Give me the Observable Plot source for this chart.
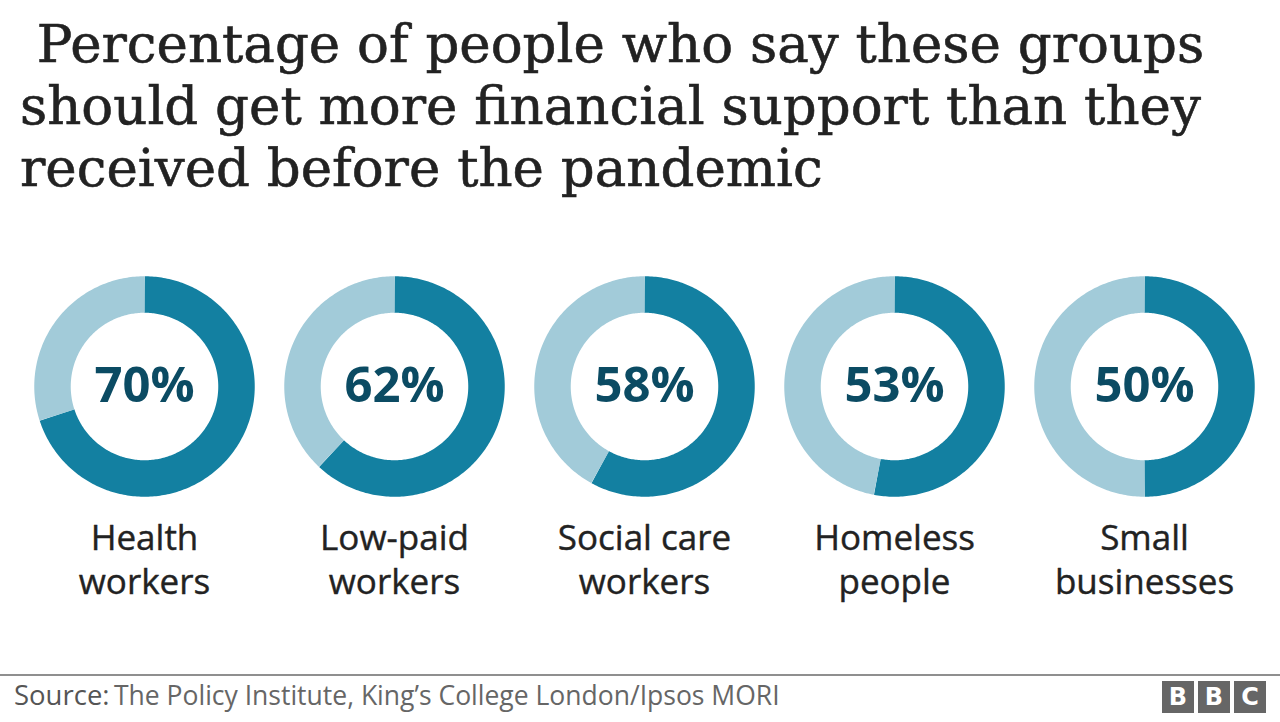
<!DOCTYPE html>
<html>
<head>
<meta charset="utf-8">
<script src="https://cdn.jsdelivr.net/npm/d3@7"></script>
<script src="https://cdn.jsdelivr.net/npm/@observablehq/plot@0.6"></script>
<style>
  html, body { margin: 0; padding: 0; background: #fff; }
  #page { position: relative; width: 1280px; height: 722px; overflow: hidden; }
  #title { position: absolute; left: 20px; top: 13px; font-family: "DejaVu Serif", serif; font-size: 53px; line-height: 62px; color: #222; white-space: pre; -webkit-text-stroke: 0.6px #222; }
  #chart { position: absolute; left: 0; top: 230px; }
  #rule { position: absolute; left: 0; top: 674px; width: 1280px; height: 2px; background: #8f8f8f; }
  #source { position: absolute; left: 14px; top: 677px; font-family: "Open Sans", "Noto Sans", sans-serif; font-size: 26.5px; line-height: 36px; color: #666; white-space: pre; }
  #source b { font-weight: normal; color: #555; font-size: 27.5px; }
  #logo { position: absolute; left: 1162px; top: 681px; display: flex; gap: 4px; }
  #logo span { width: 32px; height: 32px; background: #666; color: #fff; font-family: "DejaVu Sans", sans-serif; font-weight: bold; font-size: 24px; line-height: 32px; text-align: center; display: block; }
</style>
</head>
<body>
<div id="page">
  <div id="title"></div>
  <div id="chart"></div>
  <div id="rule"></div>
  <div id="source"></div>
  <div id="logo"><span>B</span><span>B</span><span>C</span></div>
</div>
<script>
// ---- data ----
const titleLines = [" Percentage of people who say these groups", "should get more financial support than they", "received before the pandemic"];
const groups = ["Health\nworkers", "Low-paid\nworkers", "Social care\nworkers", "Homeless\npeople", "Small\nbusinesses"];
const values = [70, 62, 58, 53, 50];
const sourceLabel = "Source:";
const sourceText = "The Policy Institute, King\u2019s College London/Ipsos MORI";

document.getElementById("title").textContent = titleLines.join("\n");
document.getElementById("source").innerHTML = "<b>" + sourceLabel + "</b>\u2009" + sourceText;

// ---- build ring geometry from values (polar -> x/y in column units) ----
const R = 0.368; // mid radius of ring in column units
const arcs = [];
values.forEach((v, i) => {
  const segs = [["yes", 0, v], ["rest", v, 100]];
  segs.forEach(([kind, a0, a1]) => {
    const steps = Math.max(2, Math.ceil((a1 - a0) * 3.6));
    for (let s = 0; s <= steps; s++) {
      const t = (a0 + (a1 - a0) * s / steps) / 100 * 2 * Math.PI;
      arcs.push({key: i + "-" + kind, kind, x: i + R * Math.sin(t), y: -R * Math.cos(t)});
    }
  });
});
const table = groups.map((g, i) => ({i, group: g, value: values[i], pct: values[i] + "%"}));

const W = 1280, H = 390;
const chart = Plot.plot({
  width: W,
  height: H,
  margin: 0,
  x: {domain: [-0.576, 4.544], range: [0, W], axis: null},
  y: {domain: [-0.624, 0.936], range: [0, H], axis: null},
  color: {domain: ["yes", "rest"], range: ["#1380a1", "#a2cbd9"]},
  style: {background: "#fff"},
  marks: [
    Plot.line(arcs, {x: "x", y: "y", z: "key", stroke: "kind", strokeWidth: 36.5, strokeLinecap: "butt", strokeLinejoin: "round", curve: "linear"}),
    Plot.text(table, {x: "i", y: 0, text: "pct", fill: "#0b4b63", fontSize: 49, fontWeight: "bold", fontFamily: "Open Sans, Noto Sans, sans-serif", textAnchor: "middle"}),
    Plot.text(table, {x: "i", y: 0.684, text: "group", fill: "#222", stroke: "#222", strokeWidth: 0.4, fontSize: 35, fontFamily: "Open Sans, Noto Sans, sans-serif", textAnchor: "middle", lineAnchor: "middle", lineHeight: 1.26})
  ]
});
document.getElementById("chart").appendChild(chart);
</script>
</body>
</html>
